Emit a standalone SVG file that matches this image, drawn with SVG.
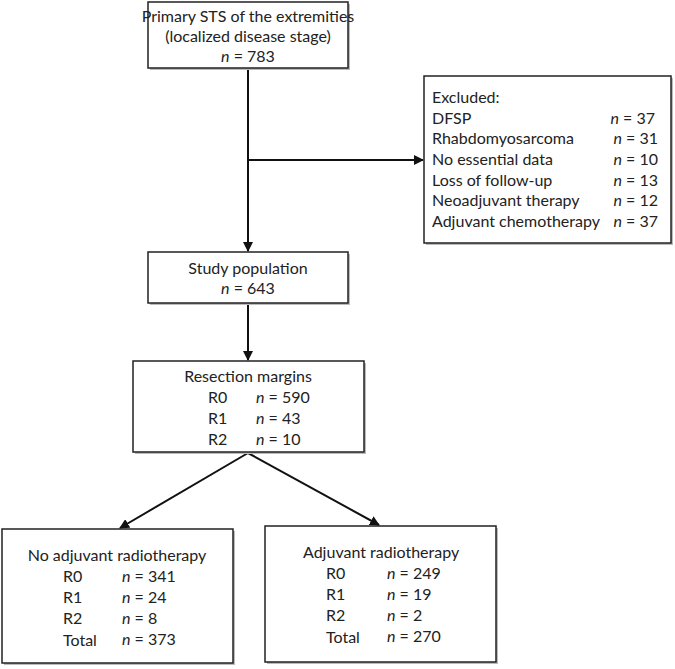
<svg xmlns="http://www.w3.org/2000/svg" width="675" height="669" viewBox="0 0 675 669">
<style>
.box{fill:#fff;stroke:#222;stroke-width:1.5}
.sh{fill:#bbb}
.t{font-family:Lato,"Liberation Sans",sans-serif;font-size:16px;fill:#222}
.c{text-anchor:middle}
.e{text-anchor:end}
.conn{stroke:#111;stroke-width:2;fill:none}
</style>
<defs>
<marker id="ah" viewBox="0 0 10 10" refX="9" refY="5" markerWidth="5" markerHeight="5" orient="auto" markerUnits="strokeWidth">
<path d="M0,0 L10,5 L0,10 z" fill="#111"/>
</marker>
</defs>
<rect width="675" height="669" fill="#fff"/>
<g id="connectors">
<line class="conn" x1="248" y1="68" x2="248" y2="251" marker-end="url(#ah)"/>
<line class="conn" x1="248" y1="160" x2="423" y2="160" marker-end="url(#ah)"/>
<line class="conn" x1="248" y1="304" x2="248" y2="360" marker-end="url(#ah)"/>
<line class="conn" x1="248" y1="453" x2="120" y2="528" marker-end="url(#ah)"/>
<line class="conn" x1="248" y1="453" x2="379" y2="525" marker-end="url(#ah)"/>
</g>
<g id="primary">
<rect class="sh" x="150" y="4" width="200" height="66"/>
<rect class="box" x="148" y="2" width="200" height="66"/>
<text class="t c" x="248" y="22">Primary STS of the extremities</text>
<text class="t c" x="248" y="42">(localized disease stage)</text>
<text class="t c" x="248" y="62"><tspan font-style="italic">n</tspan> = 783</text>
</g>
<g id="excluded">
<rect class="sh" x="426" y="78" width="247" height="167"/>
<rect class="box" x="424" y="76" width="247" height="167"/>
<text class="t" x="432" y="103">Excluded:</text>
<text class="t" x="432" y="124">DFSP</text>
<text class="t" x="432" y="144">Rhabdomyosarcoma</text>
<text class="t" x="432" y="165">No essential data</text>
<text class="t" x="432" y="186">Loss of follow-up</text>
<text class="t" x="432" y="206">Neoadjuvant therapy</text>
<text class="t" x="432" y="227">Adjuvant chemotherapy</text>
<text class="t e" x="655" y="124"><tspan font-style="italic">n</tspan> = 37</text>
<text class="t e" x="658" y="144"><tspan font-style="italic">n</tspan> = 31</text>
<text class="t e" x="658" y="165"><tspan font-style="italic">n</tspan> = 10</text>
<text class="t e" x="658" y="186"><tspan font-style="italic">n</tspan> = 13</text>
<text class="t e" x="658" y="206"><tspan font-style="italic">n</tspan> = 12</text>
<text class="t e" x="658" y="227"><tspan font-style="italic">n</tspan> = 37</text>
</g>
<g id="study">
<rect class="sh" x="150" y="254" width="200" height="51"/>
<rect class="box" x="148" y="252" width="200" height="51"/>
<text class="t c" x="248" y="274">Study population</text>
<text class="t c" x="248" y="294"><tspan font-style="italic">n</tspan> = 643</text>
</g>
<g id="resection">
<rect class="sh" x="135" y="363" width="231" height="91"/>
<rect class="box" x="133" y="361" width="231" height="91"/>
<text class="t c" x="248" y="382">Resection margins</text>
<text class="t" x="208" y="403">R0</text>
<text class="t" x="256" y="403"><tspan font-style="italic">n</tspan> = 590</text>
<text class="t" x="208" y="424">R1</text>
<text class="t" x="256" y="424"><tspan font-style="italic">n</tspan> = 43</text>
<text class="t" x="208" y="445">R2</text>
<text class="t" x="256" y="445"><tspan font-style="italic">n</tspan> = 10</text>
</g>
<g id="noradio">
<rect class="sh" x="4" y="531" width="231" height="134"/>
<rect class="box" x="2" y="529" width="231" height="134"/>
<text class="t c" x="117" y="561">No adjuvant radiotherapy</text>
<text class="t" x="63" y="582">R0</text>
<text class="t" x="122" y="582"><tspan font-style="italic">n</tspan> = 341</text>
<text class="t" x="63" y="603">R1</text>
<text class="t" x="122" y="603"><tspan font-style="italic">n</tspan> = 24</text>
<text class="t" x="63" y="624">R2</text>
<text class="t" x="122" y="624"><tspan font-style="italic">n</tspan> = 8</text>
<text class="t" x="63" y="646">Total</text>
<text class="t" x="122" y="645"><tspan font-style="italic">n</tspan> = 373</text>
</g>
<g id="radio">
<rect class="sh" x="267" y="528" width="231" height="136"/>
<rect class="box" x="265" y="526" width="231" height="136"/>
<text class="t" x="303" y="558">Adjuvant radiotherapy</text>
<text class="t" x="326" y="579">R0</text>
<text class="t" x="387" y="579"><tspan font-style="italic">n</tspan> = 249</text>
<text class="t" x="326" y="600">R1</text>
<text class="t" x="387" y="600"><tspan font-style="italic">n</tspan> = 19</text>
<text class="t" x="326" y="621">R2</text>
<text class="t" x="387" y="621"><tspan font-style="italic">n</tspan> = 2</text>
<text class="t" x="326" y="643">Total</text>
<text class="t" x="387" y="642"><tspan font-style="italic">n</tspan> = 270</text>
</g>
</svg>
